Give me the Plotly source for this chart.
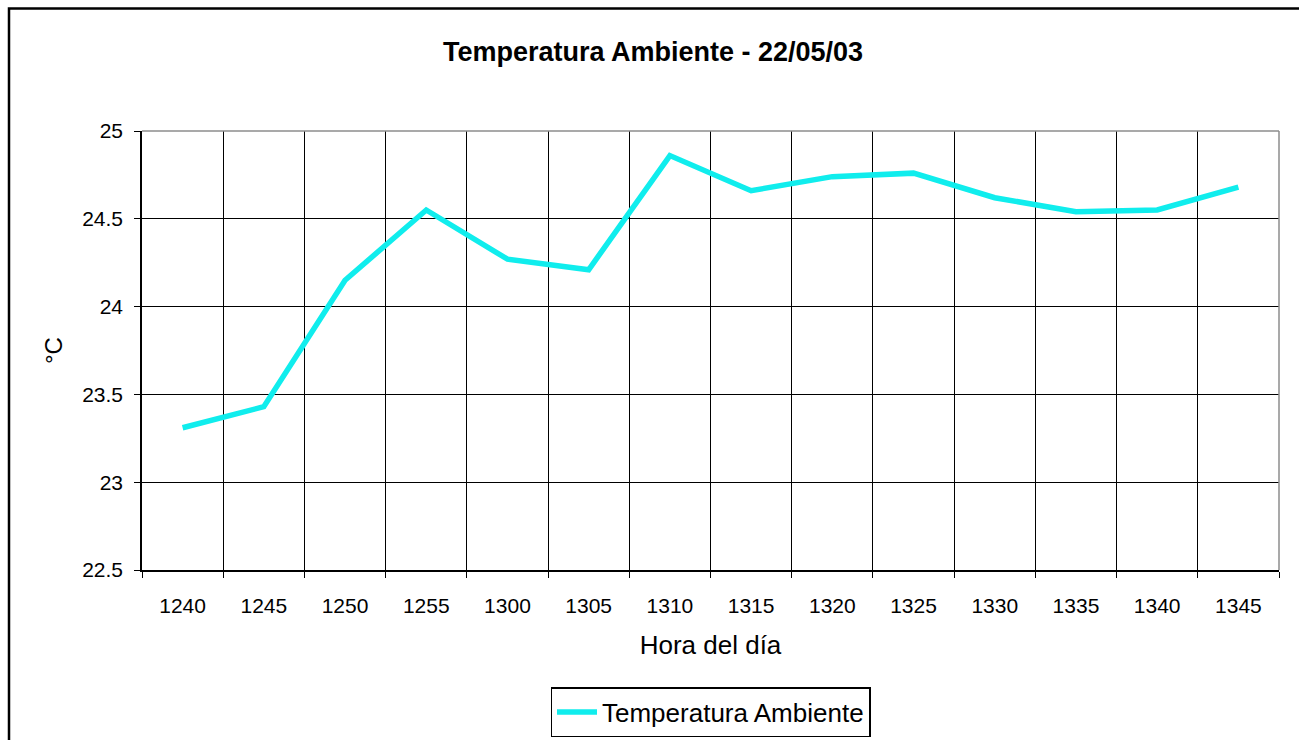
import plotly.graph_objects as go

# Hora del día (categorías) y temperatura ambiente medida
horas = ["1240", "1245", "1250", "1255", "1300", "1305", "1310",
         "1315", "1320", "1325", "1330", "1335", "1340", "1345"]
temperatura = [23.31, 23.43, 24.15, 24.55, 24.27, 24.21, 24.86,
               24.66, 24.74, 24.76, 24.62, 24.54, 24.55, 24.68]

y_ticks = [22.5, 23, 23.5, 24, 24.5, 25]
y_labels = ["22.5", "23", "23.5", "24", "24.5", "25"]

W, H = 1299, 740
L, R, T, B = 142, 20, 131, 170
pw, ph = W - L - R, H - T - B


def px_x(x):
    return (x - L) / pw


def px_y(y):
    return (H - B - y) / ph


FONT = "Arial, Liberation Sans, sans-serif"

fig = go.Figure()
fig.add_trace(go.Scatter(
    x=horas, y=temperatura, mode="lines", name="Temperatura Ambiente",
    line=dict(color="#10EDED", width=5.5),
))

fig.update_layout(
    width=W, height=H,
    margin=dict(l=L, r=R, t=T, b=B, pad=0, autoexpand=False),
    paper_bgcolor="white", plot_bgcolor="white",
    font=dict(family=FONT, color="black", size=21),
    title=dict(text="<b>Temperatura Ambiente - 22/05/03</b>",
               x=px_x(653), xanchor="center", xref="paper",
               y=1 - 52 / H, yanchor="middle",
               font=dict(size=27, family=FONT)),
    showlegend=True,
    legend=dict(orientation="h", x=0.5, xanchor="center",
                y=px_y(687), yanchor="top",
                bordercolor="black", borderwidth=1.5,
                font=dict(size=26, family=FONT),
                itemwidth=40, tracegroupgap=0),
    xaxis=dict(
        type="category", tickson="boundaries", automargin=False,
        showgrid=True, gridcolor="black", gridwidth=1.3,
        showline=True, linecolor="black", linewidth=1.5,
        ticks="outside", ticklen=6, tickcolor="black",
        tickfont=dict(size=21), ticklabelstandoff=16,
        title=dict(text="Hora del día", font=dict(size=26), standoff=20),
        range=[-0.5, 13.5], fixedrange=True,
    ),
    yaxis=dict(
        range=[22.5, 25], tickvals=y_ticks, ticktext=y_labels,
        automargin=False,
        showgrid=True, gridcolor="black", gridwidth=1.3, zeroline=False,
        showline=True, linecolor="black", linewidth=1.5,
        ticks="outside", ticklen=6, tickcolor="black",
        tickfont=dict(size=21), ticklabelstandoff=7,
        title=dict(text="°C", font=dict(size=24), standoff=13),
    ),
    shapes=[
        # marco exterior del gráfico
        dict(type="rect", xref="paper", yref="paper",
             x0=px_x(9), x1=px_x(1340), y0=px_y(780), y1=px_y(8.5),
             line=dict(color="black", width=2.5), layer="below"),
        # bordes superior y derecho del área de trazado
        dict(type="line", xref="paper", yref="paper",
             x0=0, x1=1, y0=1, y1=1,
             line=dict(color="#8c8c8c", width=1.5), layer="above"),
        dict(type="line", xref="paper", yref="paper",
             x0=1, x1=1, y0=0, y1=1,
             line=dict(color="#8c8c8c", width=1.5), layer="above"),
    ],
)

fig.write_html("out.html")
